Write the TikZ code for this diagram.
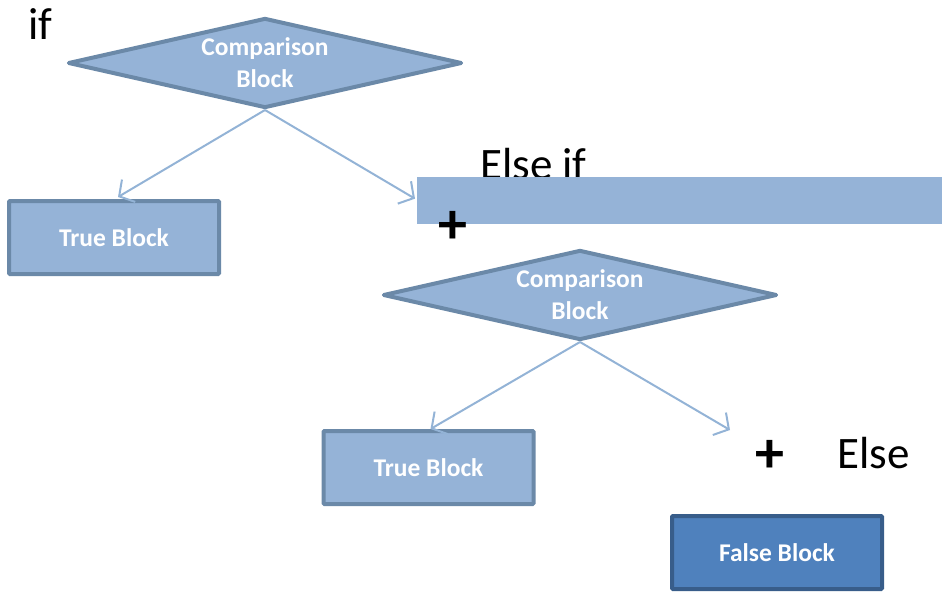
\documentclass[tikz,border=0pt]{standalone}
\usepackage{fontspec}
\setmainfont{Carlito}
\usetikzlibrary{shapes.geometric,arrows.meta,calc}
\definecolor{boxfill}{HTML}{95B3D7}
\definecolor{boxline}{HTML}{6B89A8}
\definecolor{darkfill}{HTML}{4F81BD}
\definecolor{darkline}{HTML}{385D8A}
\definecolor{linkcol}{HTML}{93B3D6}
\begin{document}
\begin{tikzpicture}[x=1pt,y=-1pt,
  decision/.style={diamond,draw=boxline,fill=boxfill,line width=4pt,
    minimum width=394pt,minimum height=90pt,inner sep=0pt,line join=round},
  dtext/.style={text=white,font=\fontsize{25.5}{32}\selectfont\bfseries,align=center},
  block/.style={rectangle,draw=boxline,fill=boxfill,line width=4pt,
    minimum width=210pt,minimum height=73pt,rounded corners=1pt,
    text=white,font=\fontsize{25.5}{30}\selectfont\bfseries},
  falseblock/.style={block,draw=darkline,fill=darkfill},
  link/.style={draw=linkcol,line width=2pt,-{Straight Barb[length=11pt,width=26pt,line width=2pt]}},
  bigtext/.style={font=\fontsize{45}{50}\selectfont,text=black,inner sep=0pt},
  plus/.style={font=\fontsize{58}{58}\selectfont\bfseries,text=black,inner sep=0pt}]
\useasboundingbox (0,0) rectangle (942,592);

% first test
\node[bigtext,anchor=base west] (kwif) at (28,39) {if};
\node[decision] (c1) at (265,63) {};
\node[dtext] (c1t) at (c1) {Comparison\\Block};
\node[block] (t1) at (114,237.5) {True Block};

% else-if banner, laid over its caption
\node[bigtext,anchor=base west] (kwelif) at (480,179) {Else if};
\node[rectangle,fill=boxfill,inner sep=0pt,minimum width=525pt,minimum height=47pt,anchor=north west]
  (bar) at (417,177) {};
\node[plus] (p1) at (453,227) {+};

% second test
\node[decision] (c2) at (580,295) {};
\node[dtext] (c2t) at (c2) {Comparison\\Block};
\node[block] (t2) at (428.5,467.5) {True Block};

% else branch
\node[plus] (p2) at (770,456) {+};
\node[bigtext,anchor=base west] (kwelse) at (837,468) {Else};
\node[falseblock] (f) at (777,552.5) {False Block};
\coordinate (e2) at (730,430);

% connectors
\draw[link] (c1.south) -- ($(t1.north)+(4,-2)$);
\draw[link] (c1.south) -- ($(bar.west)+(-2,-2)$);
\draw[link] (c2.south) -- ($(t2.north)+(2,0)$);
\draw[link] (c2.south) -- (e2);
\end{tikzpicture}
\end{document}
